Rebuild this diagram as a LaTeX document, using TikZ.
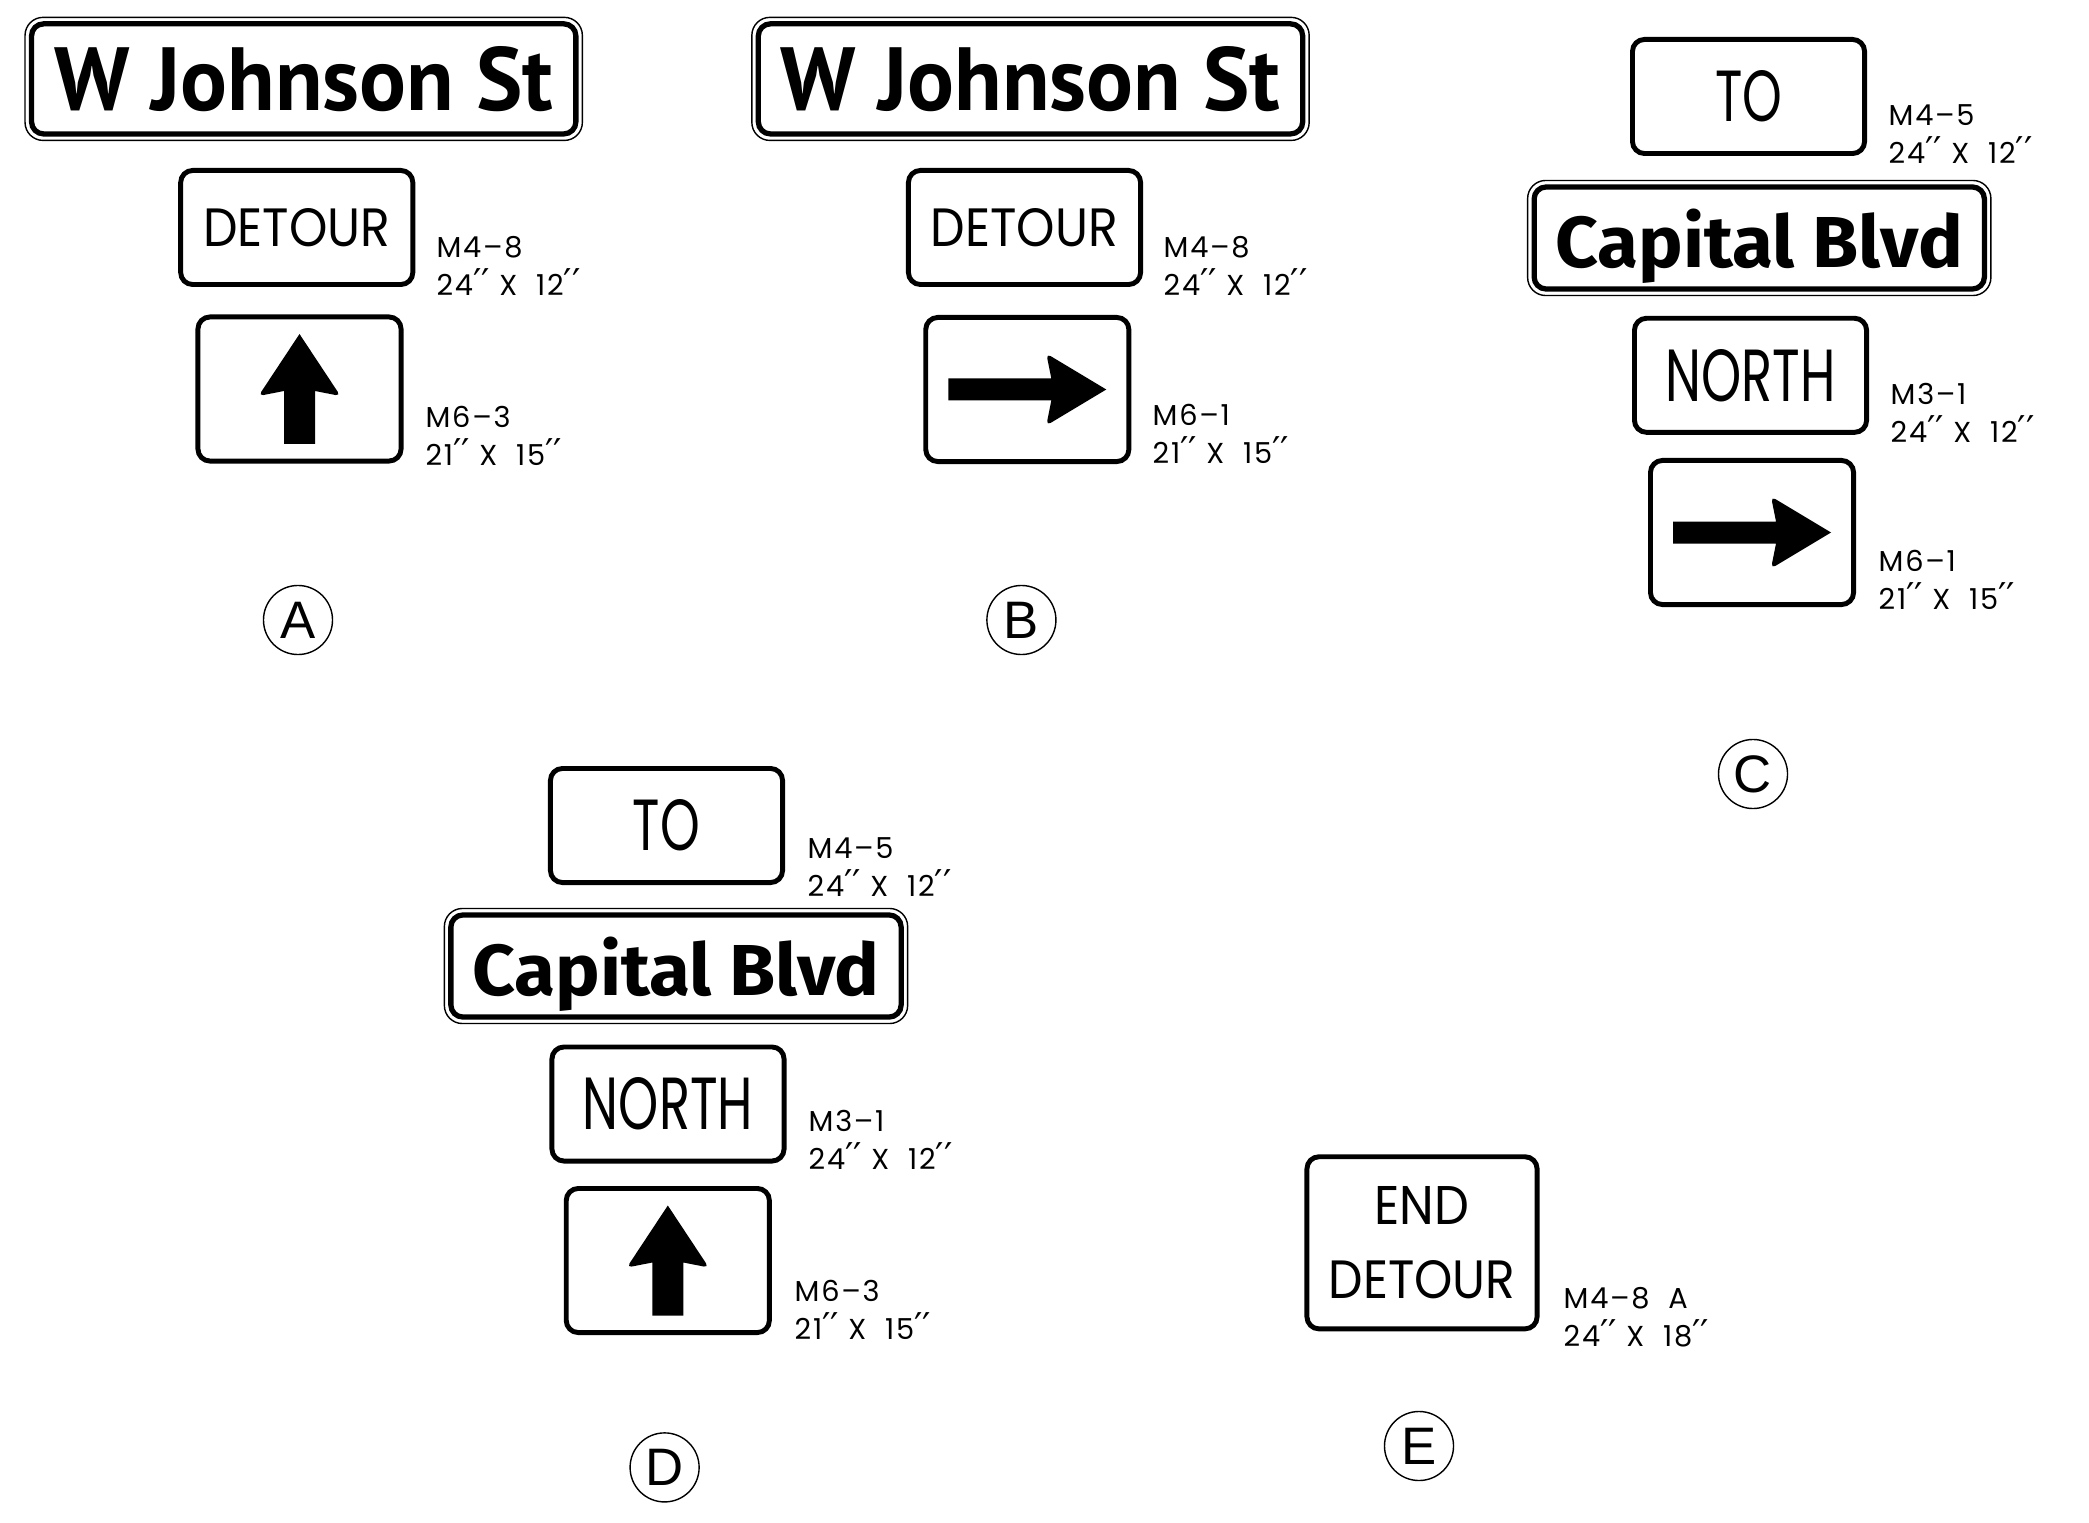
\documentclass[tikz,border=0pt]{standalone}
\usepackage{fontspec}
\usepackage{graphicx}
\newfontfamily\signfont{Poppins}
\newfontfamily\tagfont{Poppins}[LetterSpace=6]
\newfontfamily\streetfont{PT Sans}
\newfontfamily\blvdfont{Fira Sans}
\newfontfamily\letterfont{Liberation Sans}
\newfontfamily\primefont{DejaVu Sans}
\newcommand\inch{{\primefont\fontsize{10.5}{10}\selectfont ′′}}

\tikzset{
  street/.style={draw,line width=1.5pt,rounded corners=0.12cm,inner sep=0pt,outer sep=0pt,text depth=0pt},
  rim/.style={line width=0.4pt,rounded corners=0.18cm},
  plate/.style={draw,line width=1.4pt,rounded corners=0.12cm,inner sep=0pt,font=\signfont},
  short plate/.style={plate,minimum width=2.32cm,minimum height=1.14cm},
  arrow plate/.style={plate,minimum width=2.03cm,minimum height=1.44cm},
  big plate/.style={plate,minimum width=2.30cm,minimum height=1.72cm},
  tag/.style={anchor=north west,inner sep=0pt,align=left,font=\tagfont\fontsize{8.2}{10.8}\selectfont},
  letter/.style={circle,draw,line width=0.4pt,minimum size=0.69cm,inner sep=0pt,font=\letterfont\fontsize{15}{15}\selectfont}
}

\begin{document}
\begin{tikzpicture}[x=0.01cm,y=-0.01cm]
    \useasboundingbox (0,0) rectangle (2089,1522);

    \begin{scope}[every node/.style={street}]
      \node[minimum width=5.44cm,minimum height=1.10cm] (wjA) at (303.7,78.9) {\resizebox{4.99cm}{0.64cm}{\streetfont\bfseries W Johnson St}};
      \node[minimum width=5.44cm,minimum height=1.10cm] (wjB) at (1030.5,78.9) {\resizebox{4.99cm}{0.64cm}{\streetfont\bfseries W Johnson St}};
      \node[minimum width=4.50cm,minimum height=1.02cm] (capC) at (1759.25,238) {\resizebox{4.07cm}{0.585cm}{\blvdfont\bfseries Capital Blvd}};
      \node[minimum width=4.50cm,minimum height=1.02cm] (capD) at (676,966) {\resizebox{4.07cm}{0.585cm}{\blvdfont\bfseries Capital Blvd}};
    \end{scope}
    \foreach \s in {wjA,wjB,capC,capD}
      \draw[rim] ([shift={(-6.5,-6.5)}]\s.north west) rectangle ([shift={(6.5,6.5)}]\s.south east);

    \begin{scope}[every node/.style={plate}]
      \node[short plate] (detA) at (296.75,227.5) {\resizebox{1.87cm}{0.38cm}{DETOUR}};
      \node[short plate] (detB) at (1024.5,227.5) {\resizebox{1.87cm}{0.38cm}{DETOUR}};
      \node[short plate] (toC) at (1748.5,96.5) {\resizebox{0.67cm}{0.51cm}{TO}};
      \node[short plate] (norC) at (1750.5,375.3) {\resizebox{1.70cm}{0.52cm}{NORTH}};
      \node[short plate] (toD) at (666.5,825.5) {\resizebox{0.67cm}{0.51cm}{TO}};
      \node[short plate] (norD) at (668,1104) {\resizebox{1.70cm}{0.52cm}{NORTH}};
      \node[arrow plate] (arrA) at (299.5,389) {};
      \node[arrow plate] (arrB) at (1027.3,389.5) {};
      \node[arrow plate] (arrC) at (1752,532.5) {};
      \node[arrow plate] (arrD) at (667.8,1260.5) {};
      \node[big plate,align=center,font=\signfont\fontsize{10}{20.86}\selectfont] (endE) at (1422,1242.8)
        {\resizebox{0.947cm}{0.38cm}{END}\\\resizebox{1.866cm}{0.38cm}{DETOUR}};
    \end{scope}

    \foreach \p in {arrA,arrD}
      \fill[shift={(\p.center)}] (0,-55) [rounded corners=0.05cm] -- (41,7) [sharp corners] -- (15.5,2)
        -- (15.5,55) -- (-15.5,55) -- (-15.5,2) [rounded corners=0.05cm] -- (-41,7) [sharp corners] -- cycle;
    \foreach \p in {arrB,arrC}
      \fill[shift={(\p.center)}] (79,0) [rounded corners=0.05cm] -- (19,36) [sharp corners] -- (24,11)
        -- (-79,11) -- (-79,-11) -- (24,-11) [rounded corners=0.05cm] -- (19,-36) [sharp corners] -- cycle;

    \begin{scope}[every node/.style={tag}]
      \node (tagA1) at (436,235.5) {M4–8\\24\inch\ X\ \ 12\inch};
      \node (tagA2) at (425,406) {M6–3\\21\inch\ X\ \ 15\inch};
      \node (tagB1) at (1163,235.5) {M4–8\\24\inch\ X\ \ 12\inch};
      \node (tagB2) at (1152,404) {M6–1\\21\inch\ X\ \ 15\inch};
      \node (tagC1) at (1888,104) {M4–5\\24\inch\ X\ \ 12\inch};
      \node (tagC2) at (1890,382.5) {M3–1\\24\inch\ X\ \ 12\inch};
      \node (tagC3) at (1878,550) {M6–1\\21\inch\ X\ \ 15\inch};
      \node (tagD1) at (807,837) {M4–5\\24\inch\ X\ \ 12\inch};
      \node (tagD2) at (808,1110) {M3–1\\24\inch\ X\ \ 12\inch};
      \node (tagD3) at (794,1279.5) {M6–3\\21\inch\ X\ \ 15\inch};
      \node (tagE) at (1563,1287) {M4–8\ \ A\\24\inch\ X\ \ 18\inch};
    \end{scope}

    \begin{scope}[every node/.style={letter}]
      \node (labA) at (298,620) {A};
      \node (labB) at (1021.4,620) {B};
      \node (labC) at (1753,774) {C};
      \node (labD) at (664.6,1467.4) {D};
      \node (labE) at (1419,1446) {E};
    \end{scope}
\end{tikzpicture}
\end{document}
